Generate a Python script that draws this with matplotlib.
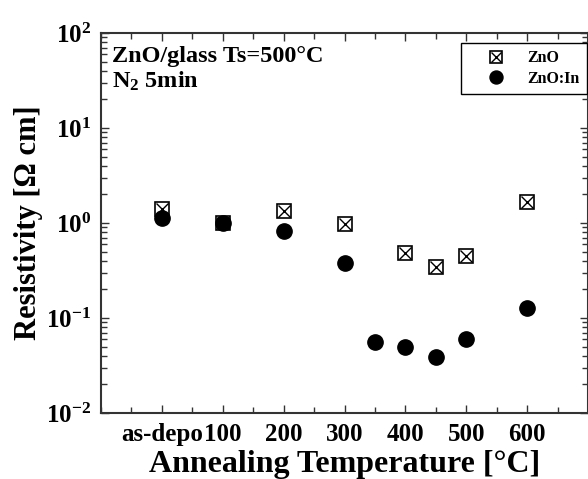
import matplotlib
matplotlib.use("Agg")
import matplotlib.pyplot as plt
from matplotlib.ticker import FixedLocator, MultipleLocator, LogLocator, NullFormatter
from matplotlib.legend_handler import HandlerTuple

plt.rcParams["font.family"] = ["Liberation Serif", "DejaVu Serif"]
plt.rcParams["font.weight"] = "bold"
plt.rcParams["mathtext.fontset"] = "custom"
plt.rcParams["mathtext.rm"] = "Liberation Serif:bold"
plt.rcParams["mathtext.it"] = "Liberation Serif:italic:bold"
plt.rcParams["mathtext.bf"] = "Liberation Serif:bold"

# data (0 = as-deposited)
zno_temp = [0, 100, 200, 300, 400, 450, 500, 600]
zno_res = [1.39, 1.0, 1.34, 0.975, 0.48, 0.342, 0.45, 1.68]
znoin_temp = [0, 100, 200, 300, 350, 400, 450, 500, 600]
znoin_res = [1.12, 0.99, 0.83, 0.377, 0.0564, 0.0499, 0.039, 0.0597, 0.128]

xtick_pos = [0, 100, 200, 300, 400, 500, 600]
xtick_labels = ["as-depo", "100", "200", "300", "400", "500", "600"]
ytick_pos = [1e-2, 1e-1, 1e0, 1e1, 1e2]
ytick_labels = [r"$\mathrm{10^{-2}}$", r"$\mathrm{10^{-1}}$", r"$\mathrm{10^{0}}$",
                r"$\mathrm{10^{1}}$", r"$\mathrm{10^{2}}$"]

fig = plt.figure(figsize=(5.88, 4.79), dpi=100)
ax = fig.add_axes([101/588, 66/479, 487/588, 380/479])

sq, = ax.plot(zno_temp, zno_res, "s", ms=10, mfc="white", mec="black", mew=1.2, ls="none", zorder=3)
xx, = ax.plot(zno_temp, zno_res, "x", ms=8, mec="black", mew=1.0, ls="none", zorder=4)
ci, = ax.plot(znoin_temp, znoin_res, "o", ms=11, color="black", ls="none", zorder=5)

ax.set_yscale("log")
ax.set_ylim(1e-2, 1e2)
ax.set_xlim(-100, 700)

ax.xaxis.set_major_locator(FixedLocator(xtick_pos))
ax.set_xticklabels(xtick_labels)
ax.xaxis.set_minor_locator(MultipleLocator(50))
ax.yaxis.set_major_locator(FixedLocator(ytick_pos))
ax.set_yticklabels(ytick_labels)
ax.yaxis.set_minor_locator(LogLocator(base=10, subs=range(2, 10)))
ax.yaxis.set_minor_formatter(NullFormatter())

ax.tick_params(which="both", direction="in", top=True, right=True, color="#333333")
ax.tick_params(which="major", length=6, width=1.0, labelsize=18, pad=7)
ax.tick_params(which="minor", length=4, width=1.0)
for s in ax.spines.values():
    s.set_linewidth(1.5)
    s.set_color("#333333")

ax.set_xlabel("Annealing Temperature [°C]", fontsize=23, fontweight="bold", labelpad=3)
ax.set_ylabel("Resistivity [Ω cm]", fontsize=22, fontweight="bold", labelpad=2)

fig.text(112/588, 1 - 62/479, "ZnO/glass Ts=500°C", fontsize=17.5, fontweight="bold", va="baseline")
fig.text(112/588, 1 - 88/479, r"N$_\mathrm{2}$ 5min", fontsize=17.5, fontweight="bold", va="baseline")

leg = ax.legend([(sq, xx), ci], ["ZnO", "ZnO:In"], handler_map={tuple: HandlerTuple(ndivide=1)},
                loc="upper right", bbox_to_anchor=(587/588, 1 - 43/479), bbox_transform=fig.transFigure,
                borderaxespad=0, fancybox=False, framealpha=1, edgecolor="black",
                prop={"size": 11.5, "weight": "bold"}, labelspacing=0.3, handletextpad=0.2,
                borderpad=0.45, handlelength=3.5, markerscale=0.85)
leg.get_frame().set_linewidth(1.0)

fig.savefig("out.png", dpi=100)
